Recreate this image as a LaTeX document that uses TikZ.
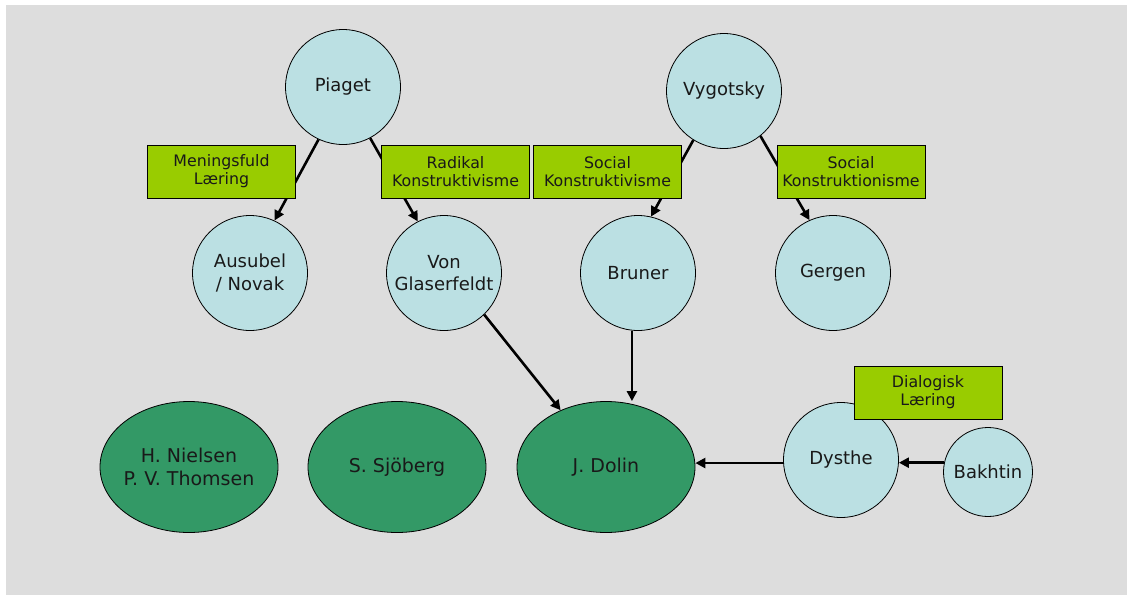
\documentclass[tikz,border=0pt]{standalone}
\usepackage{fontspec}
\setmainfont{DejaVu Sans}
\usetikzlibrary{arrows.meta,shapes.geometric}
\definecolor{bggray}{HTML}{DDDDDD}
\definecolor{thinkerblue}{HTML}{BBE0E3}
\definecolor{schoolgreen}{HTML}{339966}
\definecolor{theorygreen}{HTML}{99CC00}
\tikzset{
  thinker/.style = {circle, draw, line width=0.8pt, fill=thinkerblue, minimum size=115pt,
                    inner sep=0pt, align=center, text=black!90, font=\fontsize{18}{22.5}\selectfont},
  school/.style  = {ellipse, draw, line width=0.8pt, fill=schoolgreen, minimum width=178pt,
                    minimum height=131pt, inner ysep=0pt, inner xsep=-8pt, align=center,
                    text=black!90, font=\fontsize{19}{23}\selectfont},
  theory/.style  = {rectangle, draw, line width=0.8pt, fill=theorygreen, minimum width=148pt,
                    minimum height=53pt, inner sep=0pt, align=center, text=black!90,
                    font=\fontsize{15.8}{18}\selectfont},
  flow/.style    = {line width=2.6pt, -{Triangle[length=10pt,width=10pt]}}
}
\begin{document}
\begin{tikzpicture}[x = 1pt, y = -1pt]
        \useasboundingbox (0, 0) rectangle (1127, 595);
        \fill[white] (0, 0) rectangle (1127, 595);
        \fill[bggray] (6, 5) rectangle (1127, 595);

        % thinkers
        \foreach \name/\x/\y/\txt in {Piaget/343/87/Piaget, Vygotsky/724/91/Vygotsky,
            Ausubel/250/273/{Ausubel\\/ Novak}, Glaserfeldt/444/273/{Von\\Glaserfeldt},
            Bruner/638/273/Bruner, Gergen/833/273/Gergen, Dysthe/841/460/Dysthe}
          \node[thinker] (\name) at (\x, \y) {\txt};
        \node[thinker, minimum size = 89pt] (Bakhtin) at (988, 472) {Bakhtin};

        % schools
        \node[school] (Nielsen) at (189, 467) {H. Nielsen\\P. V. Thomsen};
        \node[school] (Sjoberg) at (397, 467) {S. Sjöberg};
        \node[school] (Dolin) at (606, 467) {J. Dolin};

        % influences
        \draw[flow] (Piaget.-115) -- (Ausubel.65);
        \draw[flow] (Piaget.-62) -- (Glaserfeldt.117);
        \draw[flow] (Vygotsky.-122) -- (Bruner.77);
        \draw[flow] (Vygotsky.-51) -- (Gergen.114);
        \draw[flow] (Glaserfeldt.-46) -- (Dolin);
        \draw[flow] (Bruner.-96) -- (Bruner.-96 |- Dolin.north);
        \draw[flow] (Dysthe.183) -- (Dysthe.183 -| Dolin.east);
        \draw[flow] (Bakhtin.168) -- (Bakhtin.168 -| Dysthe.east);

        % theories
        \node[theory] (meaning) at (221.5, 171.5) {Meningsfuld\\Læring};
        \node[theory] (radical) at (455.5, 171.5) {Radikal\\Konstruktivisme};
        \node[theory] (socconstr) at (607.5, 171.5) {Social\\Konstruktivisme};
        \node[theory] (soction) at (851, 171.5) {Social\\Konstruktionisme};
        \node[theory] (dialogic) at (928, 392.5) {Dialogisk\\Læring};
      \end{tikzpicture}
\end{document}
